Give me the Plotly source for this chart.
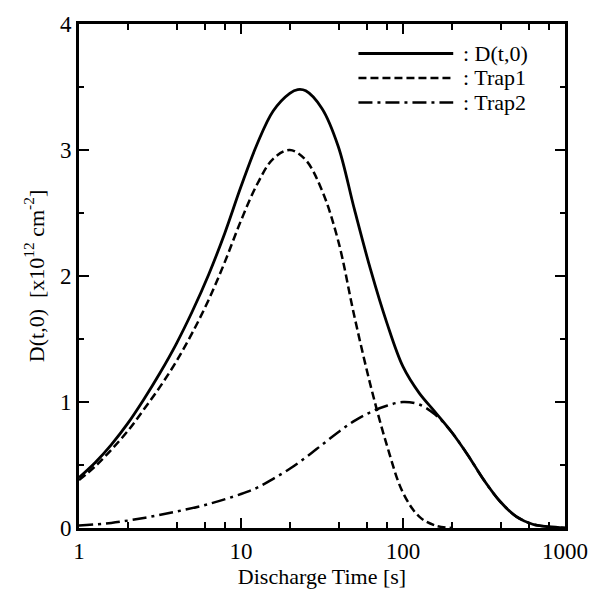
import plotly.graph_objects as go

# ---- data (discharge time in s, D in 1e12 cm^-2) ----
t_total = [1.0, 1.26, 1.58, 2.0, 2.51, 3.16, 3.98, 5.01, 6.31, 7.94, 10.0, 12.6, 15.8,
           20.0, 22.4, 25.1, 31.6, 39.8, 50.1, 63.1, 79.4, 100, 126, 158, 200, 251,
           316, 398, 501, 631, 794, 1000]
d_total = [0.40, 0.52, 0.66, 0.83, 1.02, 1.23, 1.46, 1.72, 2.01, 2.34, 2.71, 3.05, 3.31,
           3.45, 3.48, 3.47, 3.33, 3.03, 2.53, 2.05, 1.63, 1.28, 1.07, 0.92, 0.76, 0.58,
           0.38, 0.21, 0.09, 0.03, 0.01, 0.0]

t_trap1 = [1.0, 1.26, 1.58, 2.0, 2.51, 3.16, 3.98, 5.01, 6.31, 7.94, 10.0, 12.6, 15.8,
           20.0, 25.1, 31.6, 39.8, 50.1, 63.1, 79.4, 100, 126, 158, 200]
d_trap1 = [0.38, 0.49, 0.62, 0.77, 0.94, 1.12, 1.32, 1.55, 1.81, 2.11, 2.44, 2.73, 2.93,
           3.00, 2.92, 2.68, 2.28, 1.68, 1.13, 0.66, 0.28, 0.09, 0.02, 0.0]

t_trap2 = [1.0, 1.58, 2.51, 3.98, 6.31, 10.0, 12.6, 15.8, 20.0, 25.1, 31.6, 39.8, 50.1,
           63.1, 79.4, 100, 126, 158, 200, 251, 316, 398, 501, 631, 794, 1000]
d_trap2 = [0.02, 0.04, 0.08, 0.13, 0.19, 0.27, 0.32, 0.39, 0.47, 0.56, 0.66, 0.76, 0.85,
           0.92, 0.97, 1.00, 0.98, 0.90, 0.76, 0.58, 0.38, 0.21, 0.09, 0.03, 0.01, 0.0]

x_ticks = [1, 10, 100, 1000]
x_minor = [2, 4, 6, 8, 20, 40, 60, 80, 200, 400, 600, 800]
y_ticks = [0, 1, 2, 3, 4]

legend_names = [": D(t,0)", ": Trap1", ": Trap2"]
dashes = ["solid", "8px,4px", "14px,5px,3px,5px"]
widths = [2.8, 2.5, 2.5]

FONT = "Liberation Serif"

fig = go.Figure()
series = [(t_total, d_total), (t_trap1, d_trap1), (t_trap2, d_trap2)]
for (tx, dy), dsh, w in zip(series, dashes, widths):
    fig.add_trace(go.Scatter(x=tx, y=dy, mode="lines",
                             line=dict(color="black", width=w, dash=dsh, shape="spline", smoothing=1.0),
                             showlegend=False, hoverinfo="skip"))

# manual legend in paper coordinates
leg_y = [0.9415, 0.893, 0.844]
for name, dsh, w, yy in zip(legend_names, dashes, widths, leg_y):
    fig.add_shape(type="line", xref="paper", yref="paper", x0=0.575, x1=0.770, y0=yy, y1=yy,
                  line=dict(color="black", width=w, dash=dsh))
    fig.add_annotation(xref="paper", yref="paper", x=0.785, y=yy, text=name, showarrow=False,
                       xanchor="left", yanchor="middle", font=dict(family=FONT, size=22, color="black"))

fig.update_xaxes(type="log", range=[0, 3], tickvals=x_ticks, ticktext=[str(v) for v in x_ticks],
                 ticks="inside", ticklen=10, tickwidth=2, tickcolor="black",
                 minor=dict(tickvals=x_minor, ticks="inside", ticklen=6, tickwidth=2, tickcolor="black"),
                 showline=True, linewidth=3, linecolor="black", mirror="ticks",
                 showgrid=False, zeroline=False,
                 tickfont=dict(family=FONT, size=23, color="black"),
                 title=dict(text="Discharge Time [s]", font=dict(family=FONT, size=22, color="black"), standoff=2))
fig.update_yaxes(range=[0, 4], tickvals=y_ticks,
                 ticks="inside", ticklen=10, tickwidth=2, tickcolor="black",
                 minor=dict(dtick=0.5, ticks="inside", ticklen=5, tickwidth=2, tickcolor="black"),
                 showline=True, linewidth=3, linecolor="black", mirror="ticks",
                 showgrid=False, zeroline=False,
                 tickfont=dict(family=FONT, size=23, color="black"),
                 title=dict(text="D(t,0)  [x10<sup>12</sup> cm<sup>-2</sup>]",
                            font=dict(family=FONT, size=22, color="black"), standoff=10))

fig.update_layout(width=600, height=593, margin=dict(l=79, r=29, t=18, b=62),
                  plot_bgcolor="white", paper_bgcolor="white")

fig.write_html("out.html")
